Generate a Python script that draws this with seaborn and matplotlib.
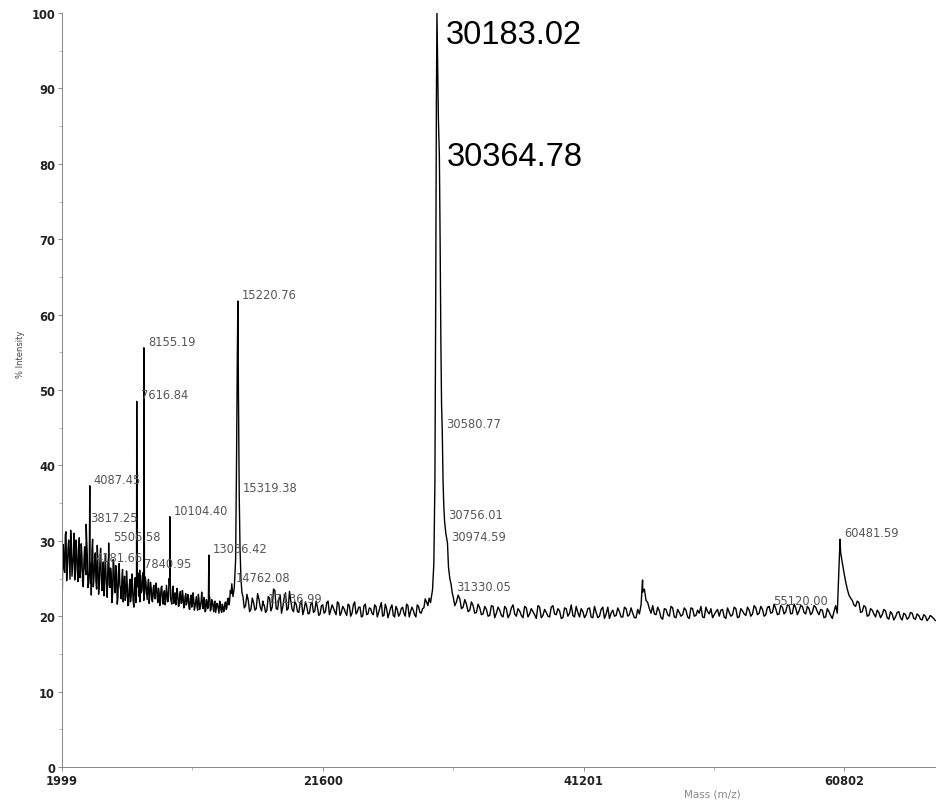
import numpy as np
import pandas as pd
import matplotlib
matplotlib.use('Agg')
import matplotlib.pyplot as plt
import seaborn as sns

# baseline trace on a fixed mass grid (two interleaved passes)
seg_a_mass = np.arange(2000, 14701, 100)
seg_a_int = [
    20.0, 29.5, 25.8, 31.2, 26.4, 30.1, 24.9, 29.7, 26.8, 31.0,
    25.2, 28.9, 24.6, 30.4, 26.1, 27.8, 23.9, 29.2, 25.5, 28.1,
    24.3, 27.6, 22.8, 30.2, 25.0, 28.4, 23.6, 26.9, 24.1, 29.0,
    23.4, 27.2, 24.8, 26.0, 22.5, 27.9, 23.8, 25.6, 22.9, 26.8,
    23.1, 25.9, 22.4, 27.0, 23.6, 24.8, 21.9, 25.3, 22.6, 24.4,
    21.5, 24.9, 22.8, 23.6, 21.2, 25.1, 23.0, 24.2, 22.6, 25.4,
    23.4, 25.8, 22.9, 24.6, 22.2, 24.9, 22.7, 23.8, 21.9, 24.1,
    22.3, 23.9, 21.8, 23.2, 22.5, 24.0, 21.6, 23.4, 22.1, 23.0,
    22.8, 24.2, 22.0, 23.6, 21.7, 23.1, 22.2, 22.9, 21.4, 23.3,
    21.8, 22.7, 21.2, 23.0, 21.9, 22.4, 20.9, 22.8, 21.5, 22.2,
    21.3, 22.6, 20.8, 22.1, 21.6, 23.2, 21.0, 22.3, 20.7, 21.9,
    21.4, 22.5, 20.9, 21.8, 20.6, 22.0, 21.1, 21.5, 20.4, 21.7,
    20.5, 21.3, 20.8, 21.9, 21.2, 22.4, 22.0, 23.0,
]
seg_a2_mass = np.arange(2050, 14651, 100)
seg_a2_int = [
    27.1, 26.3, 30.8, 24.7, 28.9, 27.4, 31.4, 25.3, 28.2, 24.8,
    30.1, 26.2, 28.7, 25.1, 29.6, 24.2, 27.5, 26.3, 30.3, 23.8,
    26.1, 24.4, 28.8, 23.9, 27.1, 24.6, 29.4, 22.9, 27.3, 25.2,
    25.6, 22.7, 28.3, 23.4, 26.9, 24.1, 26.4, 21.8, 27.5, 23.6,
    26.7, 21.6, 25.4, 24.1, 22.3, 26.2, 24.0, 22.1, 26.0, 21.4,
    23.8, 21.9, 25.6, 22.0, 24.4, 21.8, 23.9, 25.7, 21.9, 23.1,
    24.9, 22.1, 25.2, 23.3, 24.0, 21.7, 24.5, 22.2, 23.6, 22.5,
    24.4, 22.6, 23.7, 21.4, 23.8, 22.0, 23.1, 21.5, 24.1, 21.9,
    25.0, 22.5, 21.6, 24.0, 22.3, 21.5, 23.7, 21.3, 22.8, 21.7,
    23.4, 21.1, 22.6, 21.5, 22.9, 21.0, 22.4, 21.2, 23.1, 20.8,
    22.0, 21.2, 22.9, 20.9, 21.8, 21.3, 22.5, 20.6, 22.2, 21.0,
    22.8, 20.7, 22.2, 21.3, 21.9, 20.5, 21.7, 20.9, 22.0, 20.8,
    21.6, 20.6, 21.8, 20.9, 22.3, 21.5, 23.4,
]

seg_b_mass = np.arange(15600, 29601, 200)
seg_b_int = [
    22.6, 21.4, 22.1, 20.9, 21.8, 21.0, 22.3, 20.7, 21.5, 20.8,
    22.4, 21.2, 23.4, 20.9, 22.8, 21.3, 23.1, 21.0, 22.0, 20.6,
    21.6, 20.5, 22.1, 20.9, 21.3, 20.4, 21.8, 20.7, 21.2, 20.3,
    21.5, 20.6, 22.0, 20.8, 21.1, 20.2, 21.7, 20.5, 21.0, 20.1,
    21.4, 20.4, 21.9, 20.6, 21.2, 20.0, 21.6, 20.3, 21.0, 20.2,
    21.3, 20.5, 21.8, 20.1, 21.0, 20.4, 21.5, 19.9, 20.9, 20.3,
    21.2, 20.0, 21.4, 20.6, 20.8, 19.9, 21.3, 20.4, 21.1, 21.9, 22.4,
]
seg_b2_mass = np.arange(15700, 29501, 200)
seg_b2_int = [
    21.1, 22.9, 20.6, 22.4, 20.8, 23.0, 21.2, 22.0, 20.5, 22.6,
    20.7, 23.6, 21.0, 22.2, 20.4, 22.5, 20.8, 23.3, 20.9, 21.9,
    20.6, 21.7, 20.2, 21.9, 20.3, 21.6, 20.5, 22.0, 20.1, 21.4,
    20.4, 21.8, 20.2, 21.5, 20.6, 21.9, 20.1, 21.3, 20.5, 21.6,
    20.0, 21.5, 20.3, 21.2, 19.9, 21.4, 20.2, 21.1, 20.4, 21.5,
    19.9, 21.2, 20.0, 21.6, 19.8, 21.1, 20.1, 21.3, 20.0, 21.0,
    20.4, 21.6, 19.9, 21.2, 20.2, 21.5, 20.5, 21.0, 22.3, 21.4,
]

seg_c_mass = np.arange(31400, 67651, 250)
seg_c_int = [
    22.6, 21.9, 22.3, 21.2, 21.6, 20.8, 21.4, 20.5, 21.1, 20.3,
    20.9, 20.1, 21.3, 20.4, 20.8, 19.9, 21.0, 20.2, 21.5, 20.0,
    20.7, 19.8, 21.1, 20.3, 20.6, 19.7, 21.2, 20.1, 20.5, 19.9,
    21.4, 20.2, 20.7, 19.8, 21.0, 20.4, 20.1, 21.3, 19.9, 20.6,
    20.2, 21.1, 19.8, 20.5, 20.0, 21.2, 20.3, 19.7, 20.8, 20.1,
    20.6, 19.9, 21.0, 20.2, 20.4, 19.8, 20.3, 23.2, 22.1, 21.0,
    21.4, 20.2, 20.7, 19.6, 20.9, 20.0, 21.1, 19.8, 20.5, 20.2,
    20.8, 19.7, 21.0, 20.1, 20.4, 19.9, 21.2, 20.3, 19.8, 20.6,
    20.0, 20.9, 19.7, 20.5, 20.2, 21.0, 19.9, 20.7, 20.1, 20.8,
    20.3, 21.1, 20.4, 20.9, 20.2, 21.3, 20.5, 21.0, 20.3, 21.2,
    20.6, 21.4, 20.4, 21.1, 20.7, 21.3, 20.3, 21.0, 20.5, 21.2,
    20.2, 20.8, 19.9, 20.6, 19.7, 21.4, 26.3, 27.1, 24.6, 22.8,
    22.1, 21.3, 21.8, 20.6, 21.2, 20.1, 20.8, 19.9, 20.5, 20.2,
    20.7, 19.6, 20.3, 19.9, 20.6, 19.5, 20.2, 19.8, 20.4, 19.6,
    20.1, 19.5, 20.0, 19.7, 19.9, 19.4,
]
seg_c2_mass = np.arange(31525, 67526, 250)
seg_c2_int = [
    21.4, 22.8, 21.0, 22.2, 20.6, 21.9, 20.4, 21.6, 20.2, 21.3,
    20.0, 21.4, 19.8, 21.2, 20.1, 21.3, 19.8, 21.1, 20.3, 21.0,
    20.1, 21.3, 19.9, 21.0, 20.2, 21.4, 19.8, 20.9, 20.0, 21.2,
    20.3, 21.0, 19.7, 21.1, 20.0, 21.5, 19.9, 20.5, 21.0, 19.8,
    21.0, 19.9, 21.3, 19.8, 20.9, 19.7, 21.2, 20.4, 20.0, 21.1,
    19.9, 21.2, 20.0, 21.1, 19.8, 20.9, 21.5, 23.6, 21.8, 20.4,
    20.3, 21.2, 19.8, 21.0, 20.2, 21.3, 19.9, 20.9, 20.0, 21.1,
    19.9, 21.1, 20.0, 20.8, 21.3, 19.8, 20.6, 21.0, 20.2, 20.9,
    20.8, 19.9, 21.1, 20.0, 21.2, 19.8, 21.0, 20.3, 21.2, 20.0,
    21.4, 20.2, 21.3, 20.0, 21.2, 20.4, 21.6, 20.2, 21.4, 20.3,
    21.5, 20.3, 21.6, 20.2, 21.4, 20.5, 21.3, 20.2, 21.4, 20.6,
    20.9, 19.8, 21.0, 20.1, 20.6, 20.4, 28.5, 25.8, 23.6, 22.4,
    21.5, 22.0, 20.5, 21.4, 20.0, 21.0, 20.3, 20.8, 19.8, 20.9,
    19.8, 20.6, 19.5, 20.5, 19.8, 20.4, 19.6, 20.5, 19.7, 20.3,
    19.6, 20.2, 19.4, 20.1, 19.7,
]

# the two big peaks
p15_mass = [14762.08, 14850, 14950, 15050, 15120, 15180, 15220.76, 15260, 15319.38, 15380, 15450, 15520]
p15_int = [24.3, 22.6, 23.8, 27.5, 41.0, 55.0, 61.8, 50.0, 36.2, 29.0, 25.0, 23.2]

main_mass = [29700, 29850, 29950, 30030, 30090, 30140, 30183.02, 30230, 30290, 30364.78, 30420,
             30480, 30530, 30580.77, 30640, 30700, 30756.01, 30850, 30974.59, 31050, 31150, 31250, 31330.05]
main_int = [21.8, 23.5, 27.0, 38.0, 62.0, 88.0, 100.0, 94.0, 86.0, 81.0, 70.0,
            56.0, 48.0, 44.7, 38.0, 34.5, 32.6, 31.0, 29.7, 26.5, 25.0, 24.2, 23.1]

# narrow spikes
spike_mass = [3817.25, 4087.45, 4181.66, 5506.58, 7616.84, 7840.95, 8155.19, 10104.40,
              13036.42, 17136.99, 45638, 55120.00, 60481.59]
spike_int = [32.2, 37.3, 26.9, 29.7, 48.5, 26.1, 55.6, 33.2, 28.1, 21.5, 24.8, 21.2, 30.2]

# small peak labels
label_mass = [3817.25, 4087.45, 4181.66, 5506.58, 7616.84, 7840.95, 8155.19, 10104.40, 13036.42,
              14762.08, 15220.76, 15319.38, 17136.99, 30580.77, 30756.01, 30974.59, 31330.05,
              55120.00, 60481.59]
label_int = [32.2, 37.3, 26.9, 29.7, 48.5, 26.1, 55.6, 33.2, 28.1,
             24.3, 61.8, 36.2, 21.5, 44.7, 32.6, 29.7, 23.1,
             21.2, 30.2]

big_labels = ['30183.02', '30364.78']
big_label_mass = [30183.02, 30364.78]
big_label_int = [97.2, 81.0]

x_ticks = [1999, 21600, 41201, 60802]

df = pd.DataFrame({
    'mass': np.concatenate([seg_a_mass, seg_a2_mass, seg_b_mass, seg_b2_mass, seg_c_mass, seg_c2_mass,
                            p15_mass, main_mass, spike_mass]),
    'intensity': np.concatenate([seg_a_int, seg_a2_int, seg_b_int, seg_b2_int, seg_c_int, seg_c2_int,
                                 p15_int, main_int, spike_int]),
}).sort_values('mass')

sns.set_style('ticks')
plt.rcParams['font.family'] = ['DejaVu Sans']

fig = plt.figure(figsize=(9.37, 8.04), dpi=100)
ax = fig.add_axes([62 / 937, 36 / 804, 875 / 937, 754 / 804])

sns.lineplot(data=df, x='mass', y='intensity', estimator=None, sort=True,
             color='black', linewidth=1.0, ax=ax)

for m, v in zip(label_mass, label_int):
    ax.annotate(f'{m:.2f}', xy=(m, v), xytext=(4, 0), textcoords='offset pixels',
                fontsize=8.3, color='#555555', ha='left', va='bottom')

big_offsets = [9, 7]
for t, m, v, off in zip(big_labels, big_label_mass, big_label_int, big_offsets):
    ax.annotate(t, xy=(m, v), xytext=(off, 0), textcoords='offset pixels',
                fontsize=23.5, color='black', ha='left', va='center',
                family=['Liberation Sans', 'DejaVu Sans'])

ax.set_xlim(1999, 67770)
ax.set_ylim(0, 100)
ax.set_xticks(x_ticks)
ax.set_xticklabels([str(t) for t in x_ticks])
ax.set_xticks([(a + b) / 2 for a, b in zip(x_ticks[:-1], x_ticks[1:])], minor=True)
ax.set_yticks(range(0, 101, 10))
ax.set_yticks(range(5, 100, 10), minor=True)

ax.tick_params(axis='both', which='major', length=3, width=0.6, color='#777777',
               labelsize=8.3, labelcolor='#222222', pad=2)
ax.tick_params(axis='both', which='minor', length=2, width=0.5, color='#999999')
for lab in ax.get_xticklabels() + ax.get_yticklabels():
    lab.set_fontweight('bold')

for side in ['top', 'right']:
    ax.spines[side].set_visible(False)
for side in ['left', 'bottom']:
    ax.spines[side].set_color('#888888')
    ax.spines[side].set_linewidth(0.7)

ax.set_xlabel('Mass (m/z)', fontsize=7.5, color='#888888')
ax.xaxis.set_label_coords(0.743, -0.028)
ax.set_ylabel('% Intensity', fontsize=6, color='#444444')
ax.yaxis.set_label_coords(-0.042, 0.548)

fig.savefig('out.png', dpi=100)
